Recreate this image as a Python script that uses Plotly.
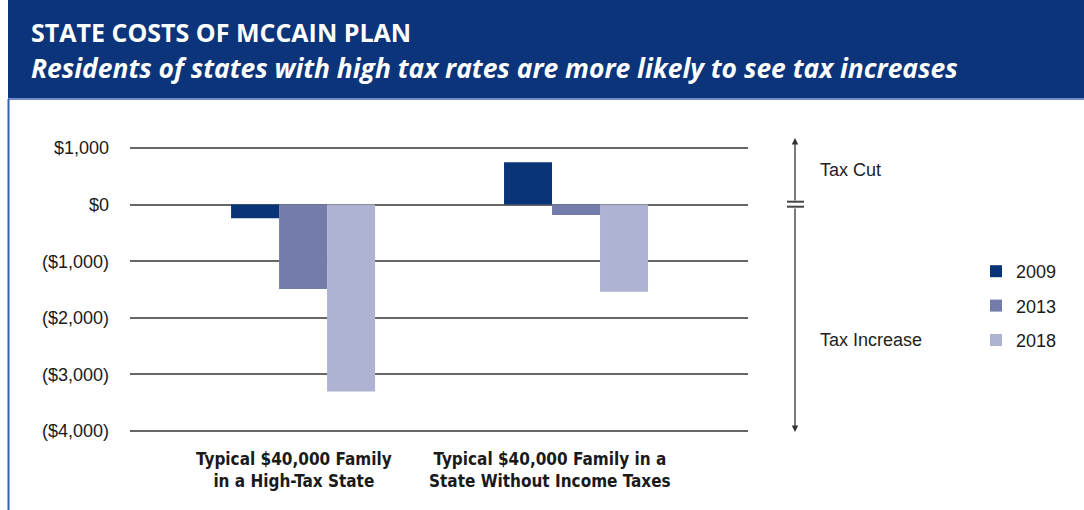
import plotly.graph_objects as go

# ---- data ----
categories = ["High-Tax State", "No Income Tax State"]
category_labels = [
    "Typical $40,000 Family<br>in a High-Tax State",
    "Typical $40,000 Family in a<br>State Without Income Taxes",
]
years = ["2009", "2013", "2018"]
values_2009 = [-240, 750]
values_2013 = [-1490, -185]
values_2018 = [-3300, -1540]
series_values = [values_2009, values_2013, values_2018]
bar_colors = ["#0a3478", "#737cab", "#aeb3d1"]

tick_values = [1000, 0, -1000, -2000, -3000, -4000]
tick_labels = ["$1,000", "$0", "($1,000)", "($2,000)", "($3,000)", "($4,000)"]

# ---- page geometry (pixels) ----
W, H = 1084, 510
L, R, T, B = 130, 748, 146, 433      # plot area, 2px beyond the outer gridlines
PW, PH = R - L, B - T
pad_units = 2 * 5000 / 283            # 2px expressed in dollars


def px(x):
    return (x - L) / PW


def py(y):
    return (B - y) / PH


NARROW = "DejaVu Sans Condensed, Liberation Sans Narrow, Arial Narrow, sans-serif"
BODY = "Liberation Sans, Arial, sans-serif"
HEAD = "Open Sans, Liberation Sans, Arial, sans-serif"

fig = go.Figure()
for year, vals, col in zip(years, series_values, bar_colors):
    fig.add_trace(go.Bar(
        x=categories, y=vals, name=year, marker=dict(color=col, line=dict(width=0)),
        legendgroup=year, hoverinfo="skip",
    ))

shapes = []
annotations = []

# header banner
shapes.append(dict(type="rect", xref="paper", yref="paper", x0=px(8), x1=px(1084),
                   y0=py(0), y1=py(98), fillcolor="#0b347a", line=dict(width=0), layer="below"))
shapes.append(dict(type="line", xref="paper", yref="paper", x0=px(8), x1=px(1084),
                   y0=py(99), y1=py(99), line=dict(color="#6f8dc8", width=2)))
shapes.append(dict(type="line", xref="paper", yref="paper", x0=px(8.5), x1=px(8.5),
                   y0=py(99), y1=py(512), line=dict(color="#3560ad", width=2)))

annotations.append(dict(xref="paper", yref="paper", x=px(29), y=py(31.5), xanchor="left",
                        yanchor="middle", showarrow=False, text="<b>STATE COSTS OF MCCAIN PLAN</b>",
                        font=dict(family=HEAD, size=25, color="white")))
annotations.append(dict(xref="paper", yref="paper", x=px(29), y=py(68), xanchor="left",
                        yanchor="middle", showarrow=False,
                        text="<b><i>Residents of states with high tax rates are more likely to see tax increases</i></b>",
                        font=dict(family=HEAD, size=26.4, color="white")))

# category labels under each bar group
label_shift = [-9, -26]
for cat, lab, sh in zip(categories, category_labels, label_shift):
    annotations.append(dict(x=cat, xref="x", yref="paper", y=py(447), yanchor="top",
                            xshift=sh, showarrow=False, text="<b>" + lab + "</b>",
                            font=dict(family=NARROW, size=17, color="#1a1a1a"),
                            align="center"))

# tax cut / tax increase scale with a break at zero
axis_x = 795
annotations.append(dict(xref="paper", yref="paper", x=px(axis_x), y=py(138), ax=0, ay=64,
                        showarrow=True, arrowhead=2, arrowsize=1, arrowwidth=1.3,
                        arrowcolor="#333333", text=""))
annotations.append(dict(xref="paper", yref="paper", x=px(axis_x), y=py(432), ax=0, ay=-225,
                        showarrow=True, arrowhead=2, arrowsize=1, arrowwidth=1.3,
                        arrowcolor="#333333", text=""))
for yb in (201.7, 206.7):
    shapes.append(dict(type="line", xref="paper", yref="paper", x0=px(787), x1=px(804),
                       y0=py(yb), y1=py(yb), line=dict(color="#444444", width=2)))
annotations.append(dict(xref="paper", yref="paper", x=px(818), y=py(170), xanchor="left",
                        yanchor="middle", showarrow=False, text="Tax Cut",
                        font=dict(family=BODY, size=18, color="#222222")))
annotations.append(dict(xref="paper", yref="paper", x=px(818), y=py(340), xanchor="left",
                        yanchor="middle", showarrow=False, text="Tax Increase",
                        font=dict(family=BODY, size=18, color="#222222")))

fig.update_layout(
    width=W, height=H, autosize=False,
    margin=dict(l=L, r=W - R, t=T, b=H - B, pad=0),
    paper_bgcolor="white", plot_bgcolor="white",
    barmode="group", bargap=0.4725, bargroupgap=0,
    xaxis=dict(range=[-0.634, 1.630], showticklabels=False, showgrid=False,
               zeroline=False, showline=False, ticks=""),
    yaxis=dict(range=[-4000 - pad_units, 1000 + pad_units], tickvals=tick_values,
               ticktext=tick_labels, showgrid=True, gridcolor="#666666", gridwidth=1.5,
               zeroline=False, showline=False, ticks="", ticklabelstandoff=20,
               tickfont=dict(family=BODY, size=18, color="#1a1a1a")),
    legend=dict(x=px(976), y=py(253), xanchor="left", yanchor="top",
                font=dict(family=BODY, size=18, color="#1a1a1a"),
                tracegroupgap=8, bgcolor="rgba(0,0,0,0)", traceorder="grouped",
                itemwidth=30),
    showlegend=True,
    shapes=shapes, annotations=annotations,
)

fig.write_html("out.html")
